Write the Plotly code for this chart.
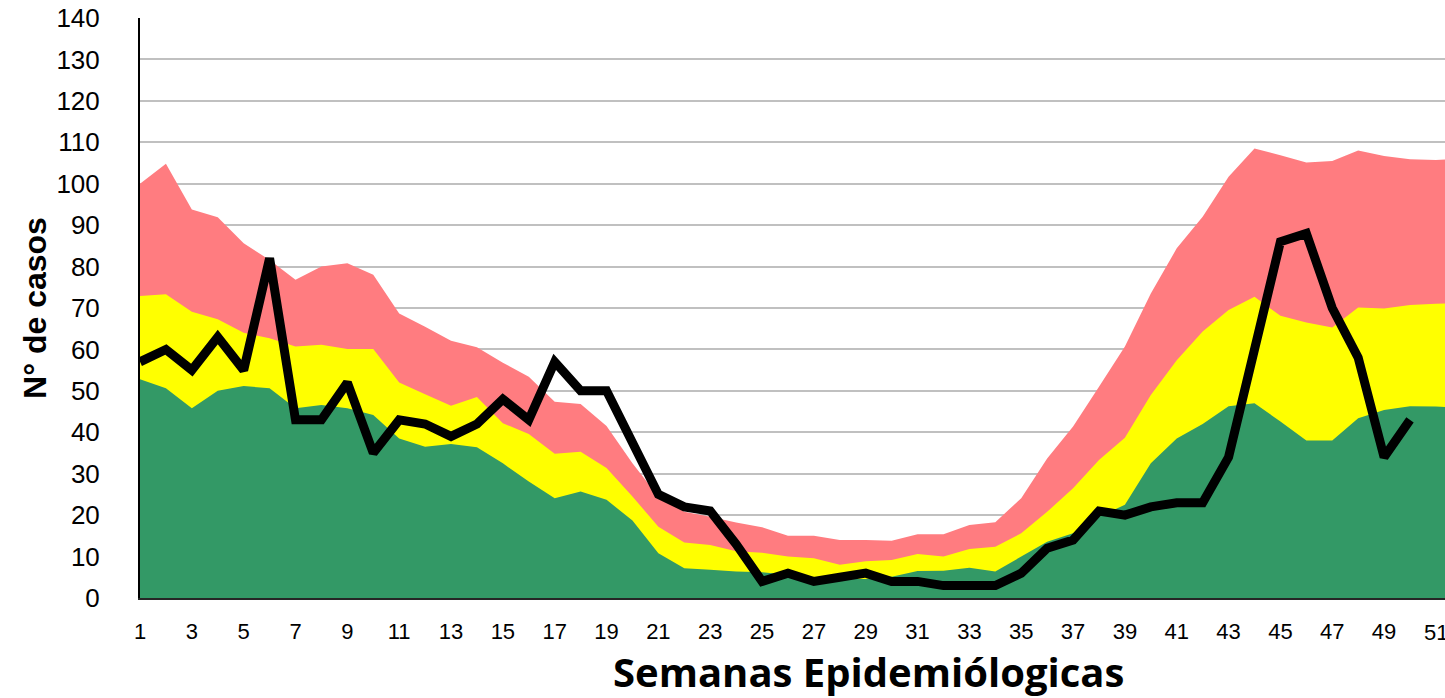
import plotly.graph_objects as go

weeks = list(range(1, 53))
red_upper = [100, 104.8, 93.8, 91.9, 85.6, 81.6, 76.8, 80, 80.8, 78, 68.7, 65.5, 62.1, 60.5, 56.8,
             53.4, 47.4, 46.8, 41.5, 32.5, 24.5, 20.8, 19.6, 18.2, 17.1, 15, 15, 14, 14, 13.8,
             15.4, 15.4, 17.6, 18.3, 24.1, 33.7, 41.4, 51, 60.7, 73.5, 84.4, 92, 101.7, 108.5,
             106.9, 105.1, 105.5, 108, 106.7, 105.9, 105.7, 106.2]
yellow_mid = [72.9, 73.3, 69.1, 67.3, 64, 62.7, 60.7, 61.1, 60.1, 60.1, 52, 49.2, 46.4, 48.5, 42.2,
              39.6, 34.8, 35.3, 31.4, 24.5, 17.2, 13.4, 12.8, 11.3, 10.9, 10, 9.6, 8, 8.9, 9.2,
              10.6, 10, 11.8, 12.4, 15.6, 20.8, 26.5, 33.3, 38.7, 49, 57.4, 64.3, 69.5, 72.7,
              68.1, 66.5, 65.3, 70.1, 69.9, 70.7, 71, 71.2]
green_low = [52.8, 50.6, 45.8, 50, 51.2, 50.6, 45.8, 46.6, 45.8, 44.2, 38.5, 36.5, 37.2, 36.4, 32.5,
             28.1, 24.1, 25.7, 23.7, 18.7, 10.8, 7.2, 6.8, 6.4, 6.2, 5.6, 4.8, 4.6, 4.6, 5.1,
             6.5, 6.6, 7.3, 6.4, 10, 13.6, 15.6, 19.6, 22.5, 32.5, 38.5, 42, 46.3, 47,
             42.6, 38, 38, 43.4, 45.4, 46.3, 46.2, 46]
case_weeks = list(range(1, 51))
cases = [57, 60, 55, 63, 55, 82, 43, 43, 52, 35, 43, 42, 39, 42, 48, 43, 57, 50, 50, 38,
         25, 22, 21, 13, 4, 6, 4, 5, 6, 4, 4, 3, 3, 3, 6, 12, 14, 21, 20, 22,
         23, 23, 34, 60, 86, 88, 70, 58, 34, 43]
x_ticks = list(range(1, 52, 2))
y_ticks = list(range(0, 141, 10))

fig = go.Figure()
fig.add_trace(go.Scatter(x=weeks, y=red_upper, fill="tozeroy", mode="none",
                         fillcolor="#FF7C80", showlegend=False))
fig.add_trace(go.Scatter(x=weeks, y=yellow_mid, fill="tozeroy", mode="none",
                         fillcolor="#FFFF00", showlegend=False))
fig.add_trace(go.Scatter(x=weeks, y=green_low, fill="tozeroy", mode="none",
                         fillcolor="#339966", showlegend=False))
fig.add_trace(go.Scatter(x=case_weeks, y=cases, mode="lines",
                         line=dict(color="#000000", width=9), showlegend=False))

fig.update_layout(
    width=1445, height=698,
    margin=dict(l=140, r=0, t=18, b=100),
    paper_bgcolor="white", plot_bgcolor="white",
    font=dict(family="Liberation Sans, Arial, sans-serif", color="#000000"),
)
fig.update_xaxes(
    range=[1, 51.35], tickmode="array", tickvals=x_ticks[:-1], ticktext=[str(v) for v in x_ticks[:-1]],
    showgrid=False, zeroline=False, showline=True, linecolor="#262626", linewidth=2,
    ticks="", ticklabelstandoff=13, tickfont=dict(size=22), automargin=False,
)
fig.update_yaxes(
    range=[0, 140], tickmode="array", tickvals=y_ticks,
    showgrid=True, gridcolor="#C0C0C0", gridwidth=2, zeroline=False,
    showline=True, linecolor="#000000", linewidth=2,
    ticks="", ticklabelstandoff=33, tickfont=dict(size=26), automargin=False,
    title=dict(text="<b>N° de casos</b>", font=dict(size=32), standoff=0),
)
fig.add_annotation(x=x_ticks[-1], y=0, xref="x", yref="y", text=str(x_ticks[-1]), showarrow=False,
                   yanchor="top", yshift=-20, font=dict(size=22))
fig.add_annotation(x=0.558, y=-0.127, xref="paper", yref="paper",
                   text="<b>Semanas Epidemiólogicas</b>", showarrow=False,
                   xanchor="center", yanchor="middle",
                   font=dict(size=40, family="Open Sans, Liberation Sans, sans-serif"))

fig.write_html("out.html", config={"displayModeBar": False},
               post_script="document.body.style.margin='0';")
